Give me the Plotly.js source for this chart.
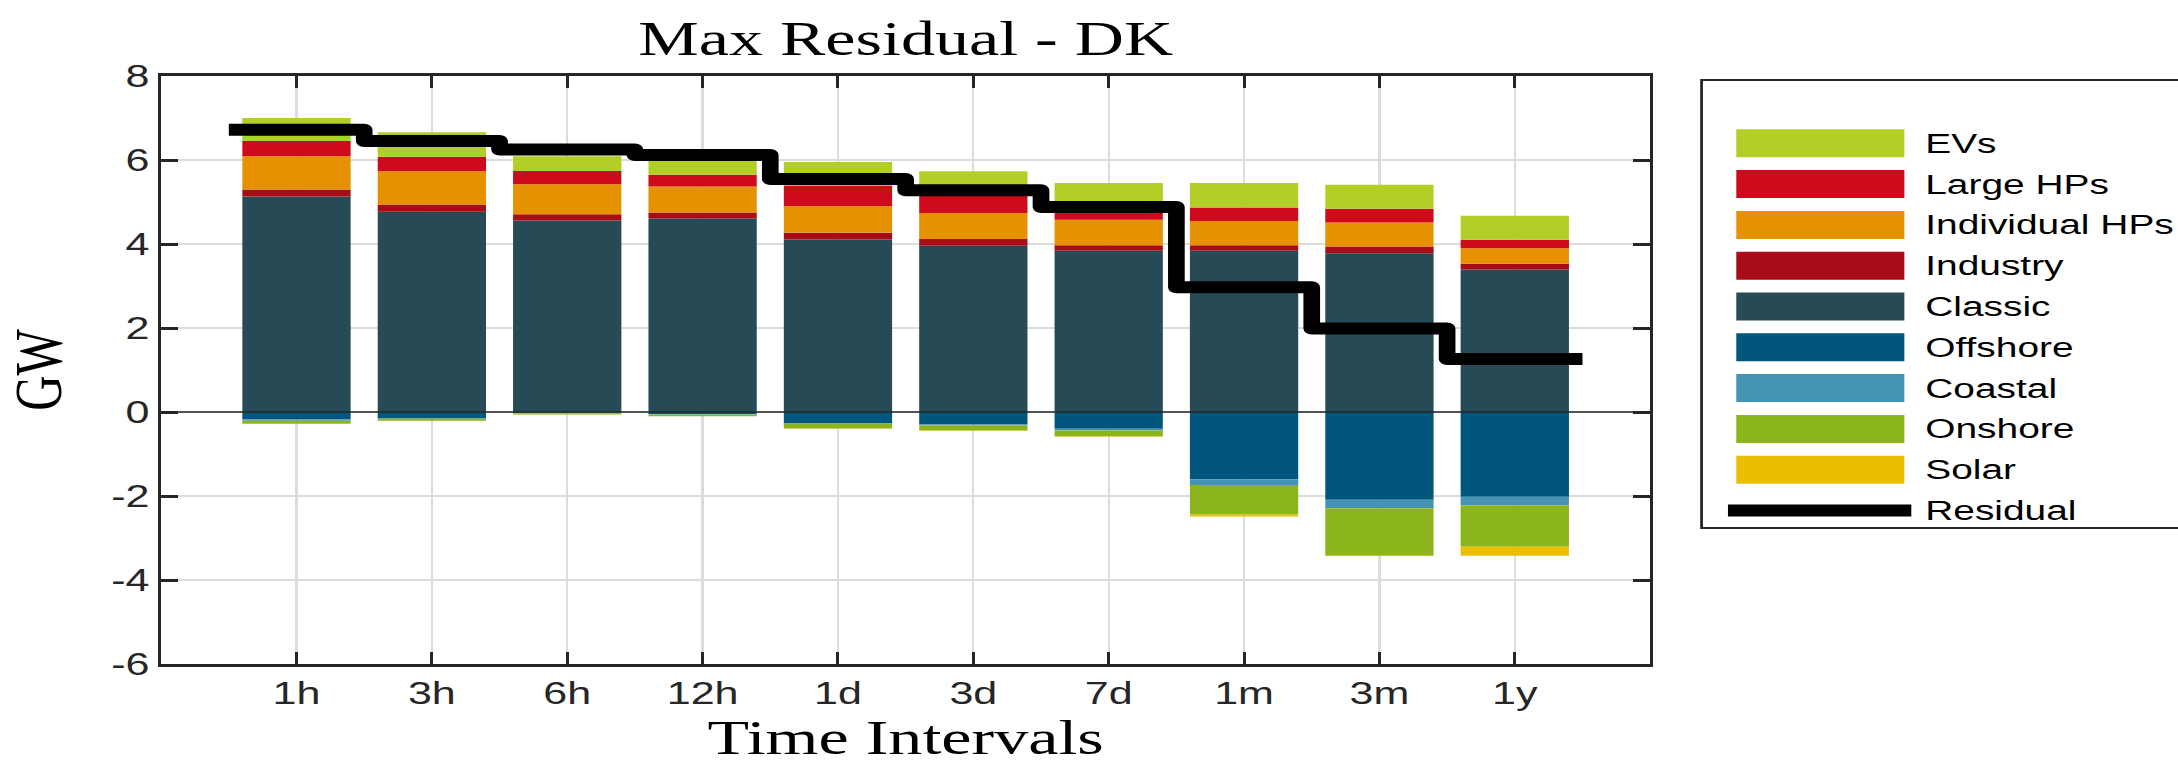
<!DOCTYPE html>
<html>
<head>
<meta charset="utf-8">
<script src="https://cdn.plot.ly/plotly-3.0.1.min.js"></script>
<style>
  html, body { margin: 0; padding: 0; background: #fff; overflow: hidden; }
  #wrap { width: 1568px; height: 765px; transform: scaleX(1.38903); transform-origin: 0 0; }
  #chart { width: 1568px; height: 765px; }
  path.js-line { stroke-linejoin: round; }
</style>
</head>
<body>
<div id="wrap"><div id="chart"></div></div>
<script>
// ---- data (GW) ----
const categories = ['1h', '3h', '6h', '12h', '1d', '3d', '7d', '1m', '3m', '1y'];
const classic       = [5.13, 4.77, 4.56, 4.61, 4.11, 3.96, 3.84, 3.84, 3.78, 3.39];
const industry      = [0.17, 0.17, 0.15, 0.14, 0.16, 0.16, 0.13, 0.13, 0.16, 0.14];
const individualHPs = [0.79, 0.79, 0.71, 0.62, 0.63, 0.62, 0.61, 0.58, 0.57, 0.37];
const largeHPs      = [0.36, 0.35, 0.32, 0.28, 0.48, 0.41, 0.22, 0.32, 0.33, 0.20];
const evs           = [0.55, 0.58, 0.35, 0.33, 0.57, 0.58, 0.65, 0.58, 0.57, 0.57];
const offshore      = [-0.18, -0.14, -0.02, -0.05, -0.26, -0.30, -0.40, -1.60, -2.09, -2.02];
const coastal       = [-0.03, -0.02, -0.01, -0.01, -0.02, -0.02, -0.04, -0.14, -0.20, -0.20];
const onshore       = [-0.07, -0.05, -0.03, -0.04, -0.11, -0.12, -0.14, -0.70, -1.13, -0.99];
const solar         = [0.00, 0.00, 0.00, 0.00, -0.01, -0.01, -0.01, -0.05, -0.01, -0.21];
const residual      = [6.72, 6.45, 6.25, 6.12, 5.55, 5.28, 4.88, 2.97, 1.99, 1.26];
const yTickVals     = [-6, -4, -2, 0, 2, 4, 6, 8];
const yTickText     = ['-6', '-4', '-2', '0', '2', '4', '6', '8'];

// stacking order (bottom-up for positive, top-down for negative)
const series = [
  {name: 'Classic',        values: classic,       color: '#264b57'},
  {name: 'Industry',       values: industry,      color: '#a60d17'},
  {name: 'Individual HPs', values: individualHPs, color: '#e69200'},
  {name: 'Large HPs',      values: largeHPs,      color: '#cd0b1c'},
  {name: 'EVs',            values: evs,           color: '#b2cf27'},
  {name: 'Offshore',       values: offshore,      color: '#00567c'},
  {name: 'Coastal',        values: coastal,       color: '#4694b4'},
  {name: 'Onshore',        values: onshore,       color: '#8cb41c'},
  {name: 'Solar',          values: solar,         color: '#ebbf00'}
];
const legendOrder = ['EVs', 'Large HPs', 'Individual HPs', 'Industry', 'Classic',
                     'Offshore', 'Coastal', 'Onshore', 'Solar', 'Residual'];

const xPos = categories.map((c, i) => i + 1);

const traces = series.map(s => ({
  type: 'bar', name: s.name, x: xPos, y: s.values, width: 0.8,
  marker: {color: s.color, line: {width: 0}}, showlegend: false, hoverinfo: 'name+y'
}));

// residual as stairs between categories
const stairX = xPos.map(v => v - 0.5).concat([xPos[xPos.length - 1] + 0.5]);
const stairY = residual.concat([residual[residual.length - 1]]);
traces.push({
  type: 'scatter', mode: 'lines', name: 'Residual', x: stairX, y: stairY,
  line: {color: '#000', width: 12, shape: 'hv'}, showlegend: false
});

// ---- geometry (unscaled pixels) ----
const W = 1568, H = 765;
const mL = 116, mR = 380, mT = 76, mB = 101;
const pw = W - mL - mR, ph = H - mT - mB;
const px = x => (x - mL) / pw;
const py = y => (H - mB - y) / ph;

const FONT = 'Liberation Sans, Arial, Helvetica, sans-serif';
const SERIF = 'Liberation Serif, Times New Roman, serif';

const shapes = [
  {type: 'line', xref: 'paper', yref: 'y', x0: 0, x1: 1, y0: 0, y1: 0,
   line: {color: '#262626', width: 1.5}, layer: 'above'},
  {type: 'rect', xref: 'paper', yref: 'paper', x0: px(1225), x1: px(1620), y0: py(528), y1: py(80),
   line: {color: '#262626', width: 2}, fillcolor: 'rgba(0,0,0,0)'}
];
const annotations = [];
const colorOf = {};
series.forEach(s => colorOf[s.name] = s.color);
legendOrder.forEach((name, k) => {
  const yc = 143.3 + 40.8 * k;
  if (name === 'Residual') {
    shapes.push({type: 'line', xref: 'paper', yref: 'paper', x0: px(1244), x1: px(1376), y0: py(yc), y1: py(yc),
                 line: {color: '#000', width: 12}});
  } else {
    shapes.push({type: 'rect', xref: 'paper', yref: 'paper', x0: px(1250), x1: px(1371), y0: py(yc + 14), y1: py(yc - 14),
                 line: {width: 0}, fillcolor: colorOf[name]});
  }
  annotations.push({xref: 'paper', yref: 'paper', x: px(1384), y: py(yc), xanchor: 'left', yanchor: 'middle',
                    text: name, showarrow: false, font: {family: FONT, size: 28, color: '#000'}});
});

const layout = {
  width: W, height: H,
  margin: {l: mL, r: mR, t: mT, b: mB, pad: 0},
  paper_bgcolor: '#fff', plot_bgcolor: '#fff',
  barmode: 'relative',
  showlegend: false,
  title: {text: 'Max Residual - DK', font: {family: SERIF, size: 49, color: '#000'},
          x: 0.5, xref: 'paper', y: 1 - 55 / H, yref: 'container', yanchor: 'bottom'},
  xaxis: {
    range: [0, 11], tickvals: xPos, ticktext: categories,
    ticks: 'inside', ticklen: 12, tickwidth: 2.2, tickcolor: '#262626',
    showline: true, linecolor: '#262626', linewidth: 3, mirror: 'ticks',
    showgrid: true, gridcolor: '#dcdcdc', gridwidth: 1.6, zeroline: false,
    tickfont: {family: FONT, size: 31, color: '#262626'},
    title: {text: 'Time Intervals', font: {family: SERIF, size: 49, color: '#000'}, standoff: 4}
  },
  yaxis: {
    range: [-6, 8], tickvals: yTickVals, ticktext: yTickText,
    ticks: 'inside', ticklen: 12.5, tickwidth: 3, tickcolor: '#262626',
    showline: true, linecolor: '#262626', linewidth: 2.2, mirror: 'ticks',
    showgrid: true, gridcolor: '#dcdcdc', gridwidth: 2, zeroline: false,
    tickfont: {family: FONT, size: 31, color: '#262626'},
    title: {text: 'GW', font: {family: SERIF, size: 49, color: '#000'}, standoff: 24}
  },
  shapes: shapes,
  annotations: annotations
};

Plotly.newPlot('chart', traces, layout, {displayModeBar: false, staticPlot: true});
</script>
</body>
</html>
